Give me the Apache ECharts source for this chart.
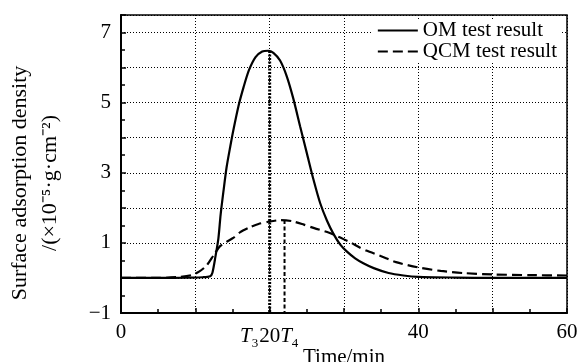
<!DOCTYPE html>
<html>
<head>
<meta charset="utf-8">
<script src="https://cdn.jsdelivr.net/npm/echarts@6/dist/echarts.min.js"></script>
<style>
  html, body { margin: 0; padding: 0; background: #fff; }
  #chart { width: 581px; height: 362px; }
</style>
</head>
<body>
<div id="chart"></div>
<script>
// OM curve (solid)
const omTime = [0, 5, 9, 11, 12, 12.3, 12.7, 13.1, 13.4, 13.8, 14.2, 14.7, 15.1, 15.8, 16.5, 17.2, 18.1, 19, 19.8, 20.5, 21.4, 22.3, 23.2, 24.1, 25, 25.9, 26.8, 27.7, 28.6, 29.5, 30.4, 31.5, 32.6, 34, 36, 38, 40, 45, 50, 55, 60];
const omValue = [0, 0, 0.01, 0.02, 0.05, 0.15, 0.6, 1.12, 1.8, 2.5, 3.15, 3.75, 4.2, 4.9, 5.45, 5.92, 6.3, 6.46, 6.48, 6.42, 6.2, 5.75, 5.1, 4.32, 3.56, 2.8, 2.13, 1.64, 1.25, 0.95, 0.75, 0.56, 0.42, 0.28, 0.14, 0.07, 0.03, 0.01, 0, 0, 0];

// QCM curve (dashed)
const qcmTime = [0, 5, 8, 9.5, 10.5, 11.5, 12.5, 13.3, 14.2, 15.1, 16, 17.4, 18.5, 20, 21.5, 23, 24.6, 26, 28, 29, 30, 31, 32, 33, 35, 37, 40, 43, 46, 50, 55, 60];
const qcmValue = [0, 0, 0.03, 0.08, 0.18, 0.35, 0.66, 0.9, 1.03, 1.14, 1.3, 1.45, 1.54, 1.61, 1.65, 1.62, 1.52, 1.42, 1.29, 1.2, 1.1, 1.0, 0.88, 0.78, 0.62, 0.45, 0.3, 0.2, 0.14, 0.1, 0.08, 0.07];

// marker times T3 / T4 and their peak values
const markTime = [20, 22];
const markTop = [6.47, 1.65];

const xLabels = [0, 20, 40, 60];
const yLabels = [-1, 1, 3, 5, 7];

const zip = (a, b) => a.map((v, i) => [v, b[i]]);

const font = 'Liberation Serif';
const chart = echarts.init(document.getElementById('chart'));

chart.setOption({
  backgroundColor: '#fff',
  animation: false,
  textStyle: { fontFamily: font, color: '#000' },
  grid: {
    left: 121, right: 14, top: 15, bottom: 49,
    outerBoundsMode: 'none',
    show: true, borderColor: '#000', borderWidth: 1.5
  },
  legend: {
    data: ['OM test result', 'QCM test result'],
    orient: 'vertical',
    right: 20,
    top: 19,
    itemWidth: 40,
    itemHeight: 14,
    itemGap: 0,
    padding: [1, 4],
    backgroundColor: '#fff',
    itemStyle: { color: 'transparent', borderColor: 'transparent', borderWidth: 0 },
    textStyle: { fontFamily: font, fontSize: 21, lineHeight: 19, color: '#000' }
  },
  xAxis: {
    type: 'value',
    min: 0, max: 60, interval: 10,
    name: 'Time/min',
    nameLocation: 'middle',
    nameGap: 34,
    nameMoveOverlap: false,
    nameTextStyle: { fontFamily: font, fontSize: 21, color: '#000' },
    axisLine: { onZero: false, lineStyle: { color: '#000', width: 2 } },
    axisTick: { inside: true, length: 5, lineStyle: { color: '#000', width: 1.5 } },
    minorTick: { show: true, splitNumber: 2, length: 4, lineStyle: { color: '#000', width: 1.5 } },
    splitLine: { show: true, lineStyle: { color: '#000', type: [1, 2], width: 1 } },
    axisLabel: {
      margin: 9,
      fontFamily: font, fontSize: 21, color: '#000',
      formatter: v => {
        if (v === markTime[0]) return '{i|T}{s|3}' + v + '{i|T}{s|4}';
        return xLabels.includes(v) ? String(v) : '';
      },
      rich: {
        i: { fontFamily: font, fontStyle: 'italic', fontSize: 21, color: '#000' },
        s: { fontFamily: font, fontSize: 13, color: '#000', padding: [15, 1, 0, 0] }
      }
    }
  },
  yAxis: {
    type: 'value',
    min: -1, max: 7.5, interval: 1,
    name: 'Surface adsorption density\n/(×10⁻⁵·g·cm⁻²)',
    nameLocation: 'middle',
    nameGap: 56,
    nameRotate: 90,
    nameMoveOverlap: false,
    nameTextStyle: { fontFamily: font, fontSize: 22, color: '#000', lineHeight: 30, padding: [0, 0, 0, -38] },
    axisLine: { lineStyle: { color: '#000', width: 2 } },
    axisTick: { inside: true, length: 5, lineStyle: { color: '#000', width: 1.5 } },
    minorTick: { show: true, splitNumber: 2, length: 4, lineStyle: { color: '#000', width: 1.5 } },
    splitLine: { show: true, lineStyle: { color: '#000', type: [1, 2], width: 1 } },
    axisLabel: {
      margin: 10,
      fontFamily: font, fontSize: 21, color: '#000',
      formatter: v => yLabels.includes(v) ? (v < 0 ? '−' + Math.abs(v) : String(v)) : ''
    }
  },
  series: [
    {
      name: 'OM test result',
      type: 'line',
      data: zip(omTime, omValue),
      smooth: 0.25,
      symbol: 'none',
      lineStyle: { color: '#000', width: 2.2 },
      itemStyle: { color: '#000' },
      z: 3
    },
    {
      name: 'QCM test result',
      type: 'line',
      data: zip(qcmTime, qcmValue),
      smooth: 0.25,
      symbol: 'none',
      lineStyle: { color: '#000', width: 2.2, type: [10, 5] },
      itemStyle: { color: '#000' },
      z: 3
    },
    {
      name: 'T3',
      type: 'line',
      data: [[markTime[0], markTop[0]], [markTime[0], -1]],
      symbol: 'none',
      lineStyle: { color: '#000', width: 3, type: [2, 1.5] },
      z: 2
    },
    {
      name: 'T4',
      type: 'line',
      data: [[markTime[1], markTop[1]], [markTime[1], -1]],
      symbol: 'none',
      lineStyle: { color: '#000', width: 2, type: [4, 2.5] },
      z: 2
    }
  ]
});
</script>
</body>
</html>
